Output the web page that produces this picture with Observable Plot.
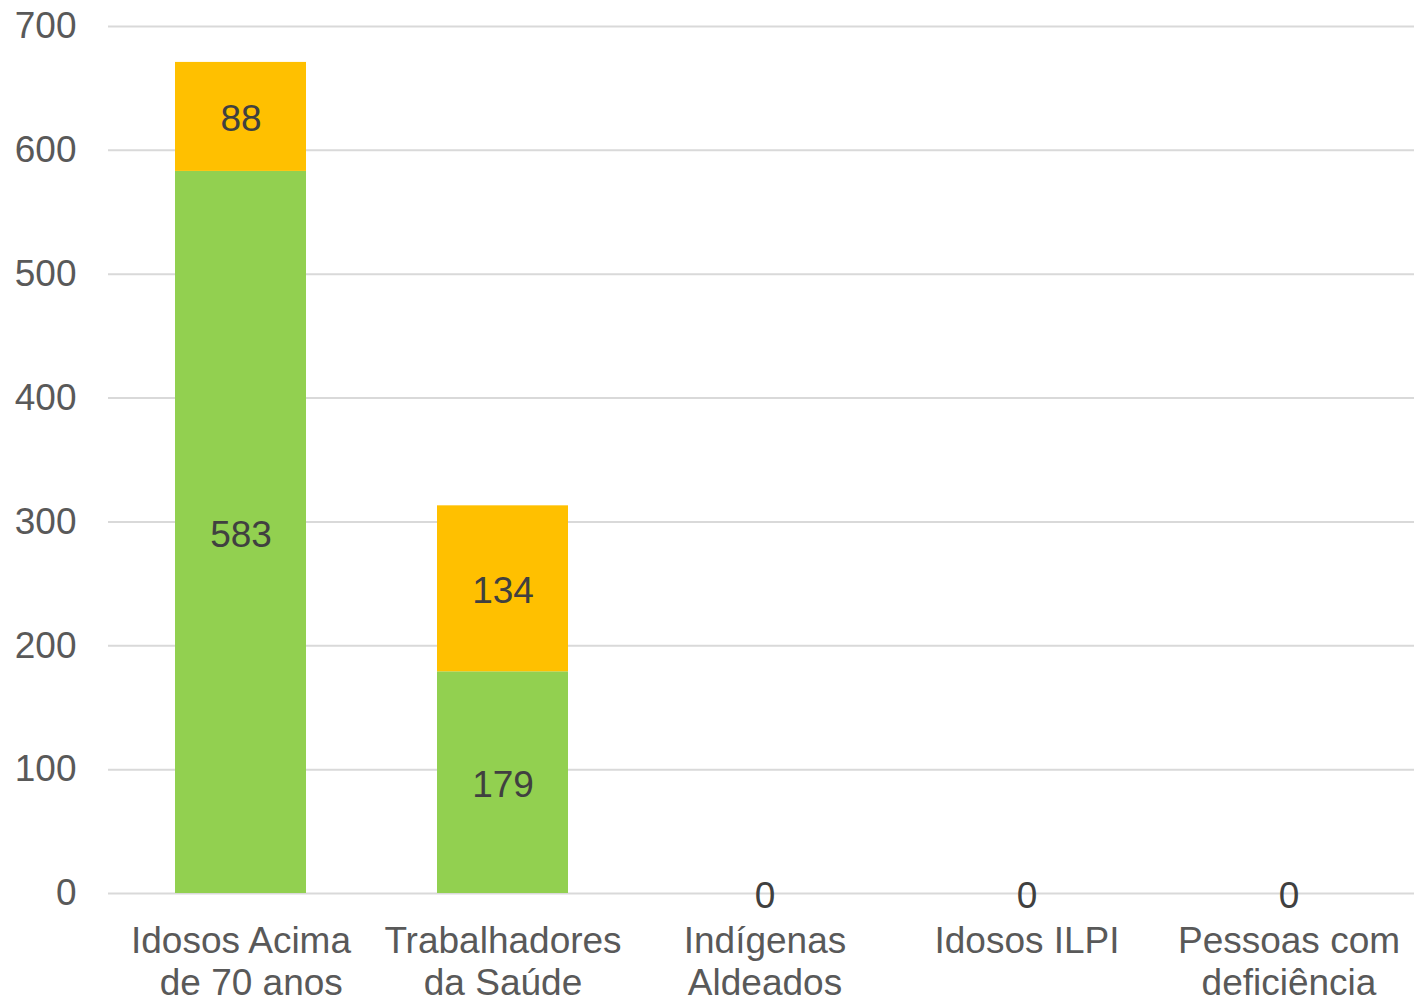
<!DOCTYPE html>
<html><head><meta charset="utf-8">
<script src="https://cdn.jsdelivr.net/npm/d3@7"></script>
<script src="https://cdn.jsdelivr.net/npm/@observablehq/plot@0.6"></script>
<style>body{margin:0;background:#fff;overflow:hidden;}</style>
</head><body><div id="chart"></div>
<script>
const categories = ["Idosos Acima\n\u00a0\u00a0de 70 anos", "Trabalhadores\nda Saúde", "Indígenas\nAldeados", "Idosos ILPI", "Pessoas com\ndeficiência"];
const seriesNames = ["1ª dose", "2ª dose"];
const dose1 = [583, 179, 0, 0, 0];
const dose2 = [88, 134, 0, 0, 0];
const yTicks = [0, 100, 200, 300, 400, 500, 600, 700];
const colors = ["#92D050", "#FFC000"];

const seriesValues = [dose1, dose2];
const data = [];
seriesNames.forEach((s, si) => {
  categories.forEach((c, i) => data.push({category: c, series: s, value: seriesValues[si][i]}));
});
// one "0" label per empty category (both series coincide there)
const labelData = data.filter(d => d.value > 0 || d.series === seriesNames[0]);

const plot = Plot.plot({
  width: 1414,
  height: 1000,
  marginTop: 26,
  marginBottom: 107,
  marginLeft: 108,
  marginRight: 0,
  style: {fontFamily: "'Liberation Sans', Arial, sans-serif", background: "#fff", overflow: "visible"},
  x: {domain: categories, range: [109, 1420], paddingInner: 0.5, paddingOuter: 0.25, label: null},
  y: {domain: [0, 700], label: null},
  color: {domain: seriesNames, range: colors},
  marks: [
    Plot.ruleY(yTicks, {stroke: "#D9D9D9", strokeWidth: 2}),
    Plot.barY(data, {x: "category", y: "value", fill: "series", z: "series"}),
    Plot.text(labelData, Plot.stackY({
      x: "category", y: "value", z: "series",
      text: d => String(d.value),
      fontSize: 37, fill: "#404040", textAnchor: "middle", dy: 2.5
    })),
    Plot.axisY({ticks: yTicks, tickSize: 0, tickPadding: 32, fontSize: 37, color: "#595959", label: null}),
    Plot.axisX({tickSize: 0, tickPadding: 30, fontSize: 37, color: "#595959", lineHeight: 1.135, label: null})
  ]
});
document.getElementById("chart").appendChild(plot);
</script>
</body></html>
